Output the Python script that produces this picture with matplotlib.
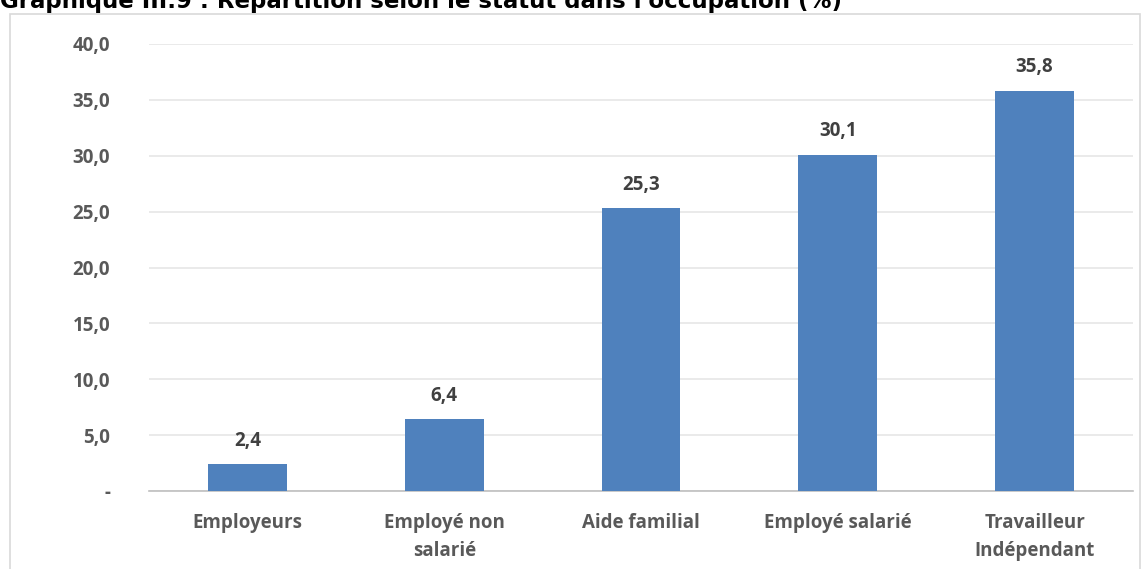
import matplotlib
matplotlib.use("Agg")
import matplotlib.pyplot as plt
from matplotlib.patches import Rectangle

categories = ["Employeurs", "Employé non\nsalarié", "Aide familial", "Employé salarié", "Travailleur\nIndépendant"]
values = [2.4, 6.4, 25.3, 30.1, 35.8]
yticks = [0, 5, 10, 15, 20, 25, 30, 35, 40]
ytick_labels = ["-", "5,0", "10,0", "15,0", "20,0", "25,0", "30,0", "35,0", "40,0"]
title = "Graphique III.9 : Répartition selon le statut dans l'occupation (%)"

W, H = 1146, 569
fig = plt.figure(figsize=(W / 100, H / 100), dpi=100)
fig.patch.set_facecolor("white")

# chart frame
fig.patches.append(Rectangle((10 / W, -0.05), 1130 / W, 1.05 - 14 / H, transform=fig.transFigure,
                             fill=False, edgecolor="#d9d9d9", linewidth=1.2))

# clipped title at top
fig.text(0 / W, 1 - 8 / H, title, ha="left", va="baseline", fontsize=16.5, fontweight="bold",
         family="DejaVu Sans", color="black")

ax = fig.add_axes([149 / W, 1 - 491 / H, 984 / W, 447 / H])
x = list(range(len(categories)))
ax.bar(x, values, width=0.4, color="#4f81bd", zorder=3)
ax.set_xlim(-0.5, len(categories) - 0.5)
ax.set_ylim(0, 40)
ax.set_yticks(yticks)
ax.set_yticklabels(ytick_labels)
ax.set_xticks(x)
ax.set_xticklabels(categories)
for s in ["top", "right", "left"]:
    ax.spines[s].set_visible(False)
ax.spines["bottom"].set_color("#bfbfbf")
ax.spines["bottom"].set_linewidth(1.2)
ax.grid(axis="y", color="#e6e6e6", linewidth=1.2, zorder=0)
ax.tick_params(axis="both", length=0, labelsize=13.5, labelcolor="#595959")
ax.tick_params(axis="y", pad=28)
ax.tick_params(axis="x", pad=16)
for lab in ax.get_xticklabels() + ax.get_yticklabels():
    lab.set_fontweight("bold")
    lab.set_family("Open Sans")
    lab.set_linespacing(1.55)

for xi, v in zip(x, values):
    ax.annotate(f"{v:.1f}".replace(".", ","), (xi, v), xytext=(0, 17), textcoords="offset points",
                ha="center", va="center", fontsize=13.5, fontweight="bold", family="Open Sans", color="#404040")

fig.savefig("out.png", dpi=100)
